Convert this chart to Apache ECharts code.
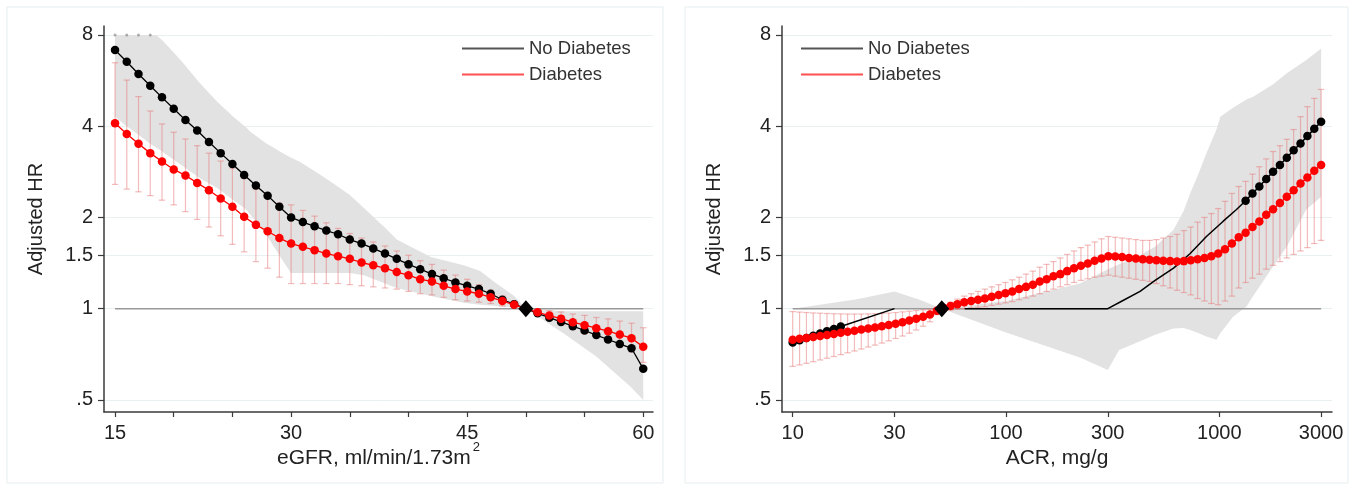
<!DOCTYPE html>
<html><head><meta charset="utf-8">
<script src="https://cdn.jsdelivr.net/npm/echarts@6/dist/echarts.min.js"></script>
<style>html,body{margin:0;padding:0;background:#fff}#c{width:1363px;height:489px}</style>
</head><body><div id="c"></div>
<script>
// ---------- LEFT PANEL: eGFR ----------
const eGFR = [15,16,17,18,19,20,21,22,23,24,25,26,27,28,29,30,31,32,33,34,35,36,37,38,39,40,41,42,43,44,45,46,47,48,49,50,51,52,53,54,55,56,57,58,59,60];
const hrNoDiabL = [7.14,6.53,5.95,5.44,4.98,4.57,4.19,3.87,3.55,3.26,3.00,2.76,2.55,2.36,2.17,2.00,1.93,1.87,1.81,1.76,1.69,1.64,1.58,1.52,1.46,1.40,1.35,1.30,1.26,1.22,1.19,1.16,1.12,1.07,1.035,1.0,0.965,0.934,0.904,0.875,0.847,0.818,0.791,0.765,0.740,0.633];
const hrDiabL = [4.09,3.77,3.50,3.26,3.06,2.88,2.75,2.60,2.46,2.31,2.17,2.01,1.89,1.80,1.71,1.64,1.60,1.56,1.52,1.49,1.46,1.42,1.39,1.36,1.32,1.29,1.25,1.23,1.19,1.16,1.14,1.12,1.09,1.06,1.03,1.0,0.973,0.949,0.927,0.902,0.882,0.862,0.843,0.821,0.799,0.748];
const diabLoL = [2.57,2.48,2.43,2.36,2.28,2.20,2.09,1.97,1.86,1.74,1.63,1.54,1.43,1.36,1.27,1.21,1.21,1.21,1.21,1.21,1.20,1.19,1.18,1.17,1.16,1.14,1.12,1.11,1.09,1.07,1.06,1.05,1.04,1.02,1.01,1.0,0.95,0.915,0.885,0.855,0.83,0.80,0.775,0.745,0.72,0.665];
const diabHiL = [6.48,5.68,5.01,4.49,4.07,3.82,3.63,3.45,3.26,3.07,2.91,2.69,2.48,2.34,2.23,2.20,2.11,2.02,1.92,1.84,1.77,1.71,1.66,1.61,1.55,1.50,1.44,1.40,1.34,1.29,1.25,1.20,1.15,1.10,1.05,1.0,0.995,0.985,0.975,0.96,0.95,0.935,0.925,0.91,0.895,0.865];
const bandLX  = [15,16,17,18,18.5,19,20,20.8,22.2,23.7,25.1,26.2,26.5,27.9,29.3,30,30.7,32.1,33.6,35,36.2,38,39,41.9,44.7,46.1,47.5,49,50,53.2,56,58.9,60];
const bandLHi = [8,8,8,8,8,7.7,7.0,6.47,5.56,4.82,4.29,3.95,3.84,3.51,3.26,3.15,3.06,2.83,2.59,2.37,2.15,1.85,1.69,1.48,1.39,1.33,1.21,1.10,1.0,0.98,0.98,0.98,0.98];
const bandLLo = [4.3,4.0,3.75,3.5,3.4,3.3,3.1,2.95,2.7,2.5,2.28,2.12,2.05,1.75,1.44,1.31,1.31,1.31,1.31,1.31,1.29,1.21,1.17,1.10,1.045,1.03,1.02,1.01,1.0,0.83,0.695,0.553,0.5];
const capDotsLX = [15,16,17,18];
const capDotsLY = [8,8,8,8];
const refLX = [15,60];
const xTicksL = [15,20,25,30,35,40,45,50,55,60];
const xLabelsL = [15,30,45,60];

// ---------- RIGHT PANEL: ACR ----------
const acr = [10,10.77,11.60,12.49,13.45,14.48,15.60,16.80,18.09,19.48,20.97,22.59,24.32,26.19,28.21,30.38,32.71,35.23,37.94,40.86,44.00,47.39,51.03,54.96,59.19,63.74,68.64,73.92,79.61,85.73,92.33,99.37,107.0,115.2,124.1,133.6,143.9,155.0,166.9,179.7,193.6,208.4,224.5,241.7,260.3,280.4,301.9,325.2,350.1,377.1,406.1,437.3,470.9,507.1,546.1,588.1,633.4,682.1,734.5,791.0,851.8,917.4,987.5,1063,1145,1233,1328,1430,1540,1659,1786,1923,2071,2230,2402,2587,2786,3000];
const hrDiabR = [0.79,0.795,0.80,0.806,0.812,0.818,0.825,0.832,0.839,0.846,0.853,0.860,0.867,0.875,0.883,0.892,0.902,0.914,0.927,0.941,0.956,0.985,1.005,1.02,1.035,1.05,1.06,1.07,1.08,1.095,1.11,1.125,1.14,1.16,1.18,1.20,1.23,1.25,1.28,1.30,1.33,1.36,1.385,1.41,1.44,1.465,1.49,1.485,1.48,1.47,1.465,1.455,1.45,1.445,1.44,1.435,1.43,1.435,1.445,1.455,1.47,1.49,1.52,1.57,1.64,1.72,1.78,1.86,1.94,2.04,2.13,2.23,2.34,2.46,2.59,2.71,2.85,2.98];
const diabLoR = [0.645,0.652,0.66,0.668,0.677,0.686,0.695,0.705,0.715,0.725,0.736,0.747,0.758,0.770,0.783,0.797,0.812,0.830,0.850,0.875,0.905,0.955,0.99,0.99,0.995,1.0,1.005,1.01,1.015,1.025,1.035,1.045,1.055,1.07,1.085,1.10,1.12,1.14,1.16,1.18,1.20,1.22,1.24,1.255,1.27,1.28,1.29,1.28,1.27,1.26,1.25,1.24,1.23,1.21,1.19,1.17,1.15,1.13,1.11,1.08,1.06,1.04,1.03,1.06,1.10,1.17,1.22,1.26,1.30,1.35,1.39,1.43,1.47,1.51,1.55,1.59,1.64,1.68];
const diabHiR = [0.978,0.974,0.971,0.968,0.966,0.964,0.962,0.961,0.960,0.960,0.960,0.961,0.962,0.964,0.967,0.971,0.976,0.981,0.986,0.991,0.995,1.0,1.02,1.05,1.075,1.10,1.12,1.14,1.16,1.18,1.20,1.22,1.245,1.27,1.30,1.33,1.37,1.40,1.43,1.47,1.51,1.55,1.59,1.62,1.66,1.70,1.73,1.72,1.71,1.70,1.69,1.68,1.68,1.69,1.71,1.73,1.76,1.81,1.86,1.93,2.0,2.06,2.14,2.26,2.40,2.53,2.63,2.78,2.94,3.12,3.30,3.45,3.62,3.90,4.30,4.64,4.94,5.29];
const noDiabRX = [10,10.77,11.60,12.49,13.45,14.48,15.60,16.80,30,45,64,300,350,425,500,610,730,870,1040,1200,1328,1430,1540,1659,1786,1923,2071,2230,2402,2587,2786,3000];
const noDiabRY = [0.773,0.786,0.800,0.814,0.828,0.843,0.857,0.873,1.0,null,1.0,1.0,1.06,1.14,1.24,1.36,1.52,1.73,1.94,2.12,2.27,2.40,2.53,2.68,2.83,2.98,3.15,3.33,3.51,3.71,3.92,4.14];
const noDiabRDot = [1,1,1,1,1,1,1,1,0,0,0,0,0,0,0,0,0,0,0,0,1,1,1,1,1,1,1,1,1,1,1,1];
const bandRX  = [10,20,30,40,50,100,222,300,339,425,500,610,680,730,800,870,970,1010,1160,1340,1440,1790,2070,2550,3000];
const bandRHi = [1.0,1.075,1.14,1.065,1.0,1.06,1.21,1.35,1.40,1.5,1.6,1.82,2.1,2.40,2.8,3.26,3.9,4.3,4.6,4.9,5.0,5.5,5.98,6.6,7.22];
const bandRLo = [1.0,1.0,1.0,1.0,1.0,0.835,0.69,0.628,0.73,0.78,0.82,0.86,0.864,0.85,0.83,0.81,0.79,0.83,0.94,1.016,1.1,1.38,1.6,2.12,2.34];
const refRX = [10,3000];
const xTicksR = [10,30,100,300,1000,3000];

// ---------- shared ----------
const yTickVals = [0.5,1,1.5,2,4,8];
const yTickText = ['.5','1','1.5','2','4','8'];
const refPoint = [50,1];

const FONT = "'Liberation Sans', Arial, sans-serif";
const BAND = '#e2e2e2';
const ERR = 'rgba(232,120,120,0.5)';
const AX = '#3a3a3a';
const GRIDC = '#e8f0f2';

function bandRender(xs, los, his){
  return function(params, api){
    const pts = [];
    for (let i=0;i<xs.length;i++) pts.push(api.coord([xs[i], his[i]]));
    for (let i=xs.length-1;i>=0;i--) pts.push(api.coord([xs[i], los[i]]));
    return {type:'polygon', shape:{points:pts}, style:{fill:BAND}};
  };
}
function errRender(params, api){
  const x = api.value(0), lo = api.value(1), hi = api.value(2);
  const a = api.coord([x, hi]), b = api.coord([x, lo]);
  const w = 3.2, st = {stroke:ERR, lineWidth:1.2};
  return {type:'group', children:[
    {type:'line', shape:{x1:a[0],y1:a[1],x2:b[0],y2:b[1]}, style:st},
    {type:'line', shape:{x1:a[0]-w,y1:a[1],x2:a[0]+w,y2:a[1]}, style:st},
    {type:'line', shape:{x1:b[0]-w,y1:b[1],x2:b[0]+w,y2:b[1]}, style:st}
  ]};
}
function yAxisCfg(gi){
  return {
    gridIndex:gi, type:'log', logBase:2, min:0.456, max:8.565,
    name:'Adjusted HR', nameLocation:'middle', nameGap:58,
    nameTextStyle:{fontSize:20, color:'#222', fontFamily:FONT},
    axisLine:{show:true, lineStyle:{color:AX, width:1.5}},
    axisTick:{show:true, customValues:yTickVals, length:6, lineStyle:{color:AX, width:1.2}},
    axisLabel:{customValues:yTickVals, fontSize:20, color:'#222', fontFamily:FONT, margin:11,
      formatter:function(v){ for (let i=0;i<yTickVals.length;i++){ if (Math.abs(v-yTickVals[i])<1e-6) return yTickText[i]; } return ''; }},
    splitLine:{show:true, lineStyle:{color:GRIDC, width:1}},
    minorSplitLine:{show:false}
  };
}
const xNameStyle = {fontSize:21, color:'#222', fontFamily:FONT,
  rich:{
    b:{fontSize:21, color:'#222', fontFamily:FONT, lineHeight:21, verticalAlign:'bottom'},
    sup:{fontSize:13, color:'#222', fontFamily:FONT, verticalAlign:'top', padding:[0,0,15,2]}
  }};

const legendBase = {
  orient:'vertical', icon:'rect', itemWidth:62, itemHeight:2, itemGap:5,
  textStyle:{fontSize:18.5, color:'#333', fontFamily:FONT, lineHeight:21},
  data:[{name:'No Diabetes', itemStyle:{color:'#555'}}, {name:'Diabetes', itemStyle:{color:'#ff5050'}}],
  selectedMode:false
};

const option = {
  animation:false,
  backgroundColor:'#ffffff',
  textStyle:{fontFamily:FONT},
  graphic:[
    {type:'rect', shape:{x:7,y:7,width:656,height:476}, style:{fill:'none', stroke:'#e6edf0', lineWidth:1}, silent:true, z:-10},
    {type:'rect', shape:{x:685,y:7,width:663,height:476}, style:{fill:'none', stroke:'#e6edf0', lineWidth:1}, silent:true, z:-10}
  ],
  legend:[
    Object.assign({}, legendBase, {left:457, top:33}),
    Object.assign({}, legendBase, {left:796, top:33})
  ],
  grid:[
    {left:104, right:710, top:26, bottom:77},
    {left:782, right:31, top:26, bottom:77}
  ],
  xAxis:[
    {gridIndex:0, type:'value', min:14.06, max:60.83,
     name:'{b|eGFR, ml/min/1.73m}{sup|2}', nameLocation:'middle', nameGap:29, nameMoveOverlap:false, nameTextStyle:xNameStyle,
     axisLine:{show:true, lineStyle:{color:AX, width:1.5}},
     axisTick:{show:true, customValues:xTicksL, length:5, lineStyle:{color:AX, width:1.2}},
     axisLabel:{customValues:xLabelsL, fontSize:20, color:'#222', fontFamily:FONT, margin:11},
     splitLine:{show:false}},
    {gridIndex:1, type:'log', logBase:10, min:8.91, max:3374,
     name:'ACR, mg/g', nameLocation:'middle', nameGap:36, nameMoveOverlap:false, nameTextStyle:{fontSize:21, color:'#222', fontFamily:FONT},
     axisLine:{show:true, lineStyle:{color:AX, width:1.5}},
     axisTick:{show:true, customValues:xTicksR, length:5, lineStyle:{color:AX, width:1.2}},
     axisLabel:{customValues:xTicksR, fontSize:20, color:'#222', fontFamily:FONT, margin:11,
       formatter:function(v){ return String(Math.round(v)); }},
     splitLine:{show:false}, minorTick:{show:false}}
  ],
  yAxis:[yAxisCfg(0), yAxisCfg(1)],
  series:[
    // left
    {type:'custom', name:'bandL', xAxisIndex:0, yAxisIndex:0, clip:true, z:1,
     renderItem:bandRender(bandLX, bandLLo, bandLHi), data:[[bandLX[0], bandLLo[0]]], silent:true},
    {type:'scatter', name:'capL', xAxisIndex:0, yAxisIndex:0, z:2, symbolSize:3,
     itemStyle:{color:'#999'}, data:capDotsLX.map((x,i)=>[x, capDotsLY[i]]), silent:true},
    {type:'line', name:'refL', xAxisIndex:0, yAxisIndex:0, z:2, symbol:'none',
     lineStyle:{color:'#999', width:1.5}, data:refLX.map(x=>[x,1]), silent:true},
    {type:'custom', name:'errL', xAxisIndex:0, yAxisIndex:0, clip:true, z:3,
     renderItem:errRender, encode:{x:0, y:[1,2]}, data:eGFR.map((x,i)=>[x, diabLoL[i], diabHiL[i]]), silent:true},
    {type:'line', name:'No Diabetes', xAxisIndex:0, yAxisIndex:0, z:4, symbol:'circle', symbolSize:8.5,
     itemStyle:{color:'#000'}, lineStyle:{color:'#000', width:1.3}, data:eGFR.map((x,i)=>[x, hrNoDiabL[i]])},
    {type:'line', name:'Diabetes', xAxisIndex:0, yAxisIndex:0, z:5, symbol:'circle', symbolSize:8.5,
     itemStyle:{color:'#ff0000'}, lineStyle:{color:'#ff0000', width:1.3}, data:eGFR.map((x,i)=>[x, hrDiabL[i]])},
    {type:'scatter', name:'refPtL', xAxisIndex:0, yAxisIndex:0, z:10, symbol:'diamond', symbolSize:[15,17],
     itemStyle:{color:'#000', opacity:1}, data:[refPoint], silent:true},
    // right
    {type:'custom', name:'bandR', xAxisIndex:1, yAxisIndex:1, clip:true, z:1,
     renderItem:bandRender(bandRX, bandRLo, bandRHi), data:[[bandRX[0], bandRLo[0]]], silent:true},
    {type:'line', name:'refR', xAxisIndex:1, yAxisIndex:1, z:2, symbol:'none',
     lineStyle:{color:'#999', width:1.5}, data:refRX.map(x=>[x,1]), silent:true},
    {type:'custom', name:'errR', xAxisIndex:1, yAxisIndex:1, clip:true, z:3,
     renderItem:errRender, encode:{x:0, y:[1,2]}, data:acr.map((x,i)=>[x, diabLoR[i], diabHiR[i]]), silent:true},
    {type:'line', name:'No Diabetes', xAxisIndex:1, yAxisIndex:1, z:4, symbolSize:8.5, connectNulls:false,
     itemStyle:{color:'#000'}, lineStyle:{color:'#000', width:1.5},
     data:noDiabRX.map((x,i)=>({value:[x, noDiabRY[i]], symbol: noDiabRDot[i] ? 'circle' : 'none'}))},
    {type:'line', name:'Diabetes', xAxisIndex:1, yAxisIndex:1, z:5, symbol:'circle', symbolSize:8.5,
     itemStyle:{color:'#ff0000'}, lineStyle:{color:'#ff0000', width:1.3}, data:acr.map((x,i)=>[x, hrDiabR[i]])},
    {type:'scatter', name:'refPtR', xAxisIndex:1, yAxisIndex:1, z:10, symbol:'diamond', symbolSize:[15,17],
     itemStyle:{color:'#000', opacity:1}, data:[refPoint], silent:true}
  ]
};
const chart = echarts.init(document.getElementById('c'), null, {renderer:'canvas'});
chart.setOption(option);
</script></body></html>
